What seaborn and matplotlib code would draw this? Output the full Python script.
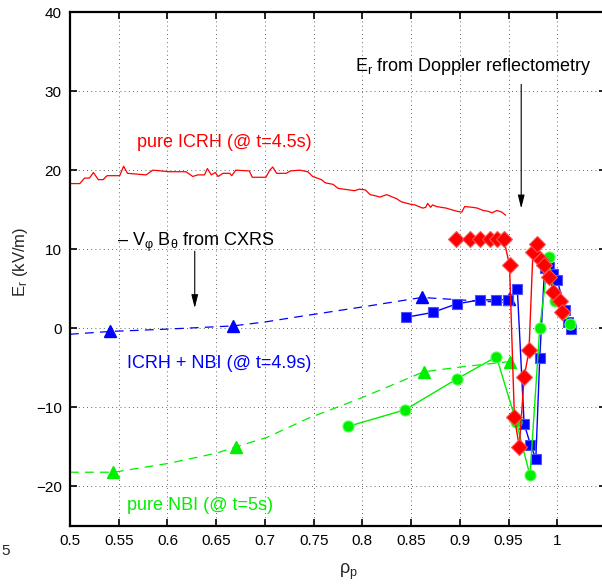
import matplotlib
matplotlib.use("Agg")
import matplotlib.pyplot as plt
import seaborn as sns

# pure ICRH, -V B from CXRS (thin solid line)
icrh_rho = [0.500, 0.510, 0.515, 0.520, 0.524, 0.529, 0.534, 0.538, 0.551, 0.555,
            0.559, 0.578, 0.585, 0.602, 0.619, 0.626, 0.631, 0.638, 0.641, 0.645,
            0.649, 0.652, 0.657, 0.664, 0.666, 0.670, 0.684, 0.687, 0.701, 0.705,
            0.708, 0.712, 0.722, 0.726, 0.736, 0.744, 0.749, 0.758, 0.762, 0.770,
            0.775, 0.792, 0.797, 0.803, 0.808, 0.812, 0.818, 0.825, 0.835, 0.840,
            0.849, 0.854, 0.862, 0.865, 0.867, 0.870, 0.872, 0.876, 0.886, 0.897,
            0.902, 0.905, 0.913, 0.918, 0.924, 0.929, 0.933, 0.938, 0.943, 0.947]
icrh_er = [18.3, 18.3, 19.0, 19.0, 19.7, 18.8, 18.8, 19.3, 19.3, 20.5,
           19.6, 19.4, 20.0, 19.8, 19.8, 19.2, 19.4, 19.4, 20.2, 19.4,
           19.7, 19.2, 19.6, 19.6, 19.3, 20.0, 19.9, 19.1, 19.1, 20.0,
           20.4, 19.6, 19.6, 19.9, 20.0, 19.8, 19.2, 18.8, 18.4, 18.2,
           17.7, 17.4, 17.6, 17.5, 16.9, 16.8, 16.6, 16.9, 16.4, 16.0,
           15.7, 15.6, 15.2, 15.3, 15.8, 15.3, 15.6, 15.4, 15.2, 14.8,
           14.7, 15.4, 15.3, 15.2, 14.9, 14.8, 14.6, 14.9, 14.7, 14.3]

# pure ICRH, Doppler reflectometry (diamonds)
icrh_dr_rho = [0.896, 0.910, 0.921, 0.931, 0.938, 0.945, 0.951, 0.956, 0.961, 0.966,
               0.971, 0.975, 0.979, 0.983, 0.986, 0.992, 0.996, 1.0025, 1.005]
icrh_dr_er = [11.3, 11.3, 11.3, 11.3, 11.3, 11.3, 8.0, -11.2, -15.0, -6.2,
              -2.8, 9.6, 10.7, 8.6, 8.0, 6.5, 4.6, 3.5, 2.1]

# ICRH + NBI, CXRS fit (dashed) and CXRS points (triangles)
mix_fit_rho = [0.500, 0.541, 0.600, 0.667, 0.700, 0.736, 0.800, 0.861, 0.900, 0.953]
mix_fit_er = [-0.75, -0.4, -0.1, 0.3, 0.8, 1.5, 2.7, 3.9, 3.6, 3.2]
mix_cx_rho = [0.541, 0.667, 0.861, 0.950]
mix_cx_er = [-0.3, 0.3, 4.0, 3.7]

# ICRH + NBI, Doppler reflectometry (squares)
mix_dr_rho = [0.845, 0.872, 0.897, 0.921, 0.937, 0.949, 0.959, 0.966, 0.9725, 0.978,
              0.982, 0.987, 0.992, 0.996, 1.000, 1.008, 1.011, 1.0145]
mix_dr_er = [1.4, 2.0, 3.1, 3.6, 3.6, 3.6, 5.0, -12.1, -14.7, -16.5,
             -3.8, 7.6, 7.8, 6.9, 6.1, 2.3, 0.8, -0.1]

# pure NBI, CXRS fit (dashed) and CXRS points (triangles)
nbi_fit_rho = [0.500, 0.545, 0.600, 0.650, 0.670, 0.702, 0.744, 0.797, 0.863, 0.900, 0.952]
nbi_fit_er = [-18.2, -18.2, -17.1, -15.8, -15.0, -13.8, -11.4, -8.9, -5.5, -4.9, -4.2]
nbi_cx_rho = [0.5445, 0.670, 0.8634, 0.952]
nbi_cx_er = [-18.2, -15.0, -5.5, -4.2]

# pure NBI, Doppler reflectometry (circles)
nbi_dr_rho = [0.7855, 0.844, 0.897, 0.9376, 0.958, 0.972, 0.982, 0.991, 0.998, 1.006, 1.013]
nbi_dr_er = [-12.4, -10.3, -6.4, -3.6, -11.9, -18.6, 0.0, 9.0, 3.4, 1.9, 0.5]

RED = "#ff0000"
BLUE = "#0000ff"
GREEN = "#00ee00"

sns.set_style("ticks")
plt.rcParams["font.family"] = ["Liberation Sans", "DejaVu Sans"]
plt.rcParams["mathtext.fontset"] = "custom"
plt.rcParams["mathtext.rm"] = "Liberation Sans"
plt.rcParams["mathtext.it"] = "Liberation Sans"

fig = plt.figure(figsize=(6.02, 5.87), dpi=100)
ax = fig.add_axes([70 / 602, 61 / 587, 536 / 602, 514 / 587])

# CXRS based curves
sns.lineplot(x=icrh_rho, y=icrh_er, ax=ax, color=RED, lw=0.9, sort=False, estimator=None)
sns.lineplot(x=mix_fit_rho, y=mix_fit_er, ax=ax, color=BLUE, lw=0.9, sort=False,
             estimator=None, linestyle=(0, (7, 5)))
sns.lineplot(x=nbi_fit_rho, y=nbi_fit_er, ax=ax, color=GREEN, lw=0.9, sort=False,
             estimator=None, linestyle=(0, (7, 5)))
ax.plot(mix_cx_rho, mix_cx_er, ls="none", marker="^", ms=8, color=BLUE, mec=BLUE)
ax.plot(nbi_cx_rho, nbi_cx_er, ls="none", marker="^", ms=8, color=GREEN, mec=GREEN)

# Doppler reflectometry
sns.lineplot(x=mix_dr_rho, y=mix_dr_er, ax=ax, color=BLUE, lw=1.0, sort=False,
             estimator=None, marker="s", ms=7, mec="#5050ff", mew=0.8)
sns.lineplot(x=nbi_dr_rho, y=nbi_dr_er, ax=ax, color=GREEN, lw=1.0, sort=False,
             estimator=None, marker="o", ms=8, mec="#60ff60", mew=0.8)
sns.lineplot(x=icrh_dr_rho, y=icrh_dr_er, ax=ax, color=RED, lw=1.0, sort=False,
             estimator=None, marker="D", ms=8, mec="#ff5050", mew=0.8)

ax.set_xlim(0.5, 1.05)
ax.set_ylim(-25, 40)
ax.set_xticks([0.5, 0.55, 0.6, 0.65, 0.7, 0.75, 0.8, 0.85, 0.9, 0.95, 1.0])
ax.set_xticklabels(["0.5", "0.55", "0.6", "0.65", "0.7", "0.75", "0.8", "0.85",
                    "0.9", "0.95", "1"])
ax.set_yticks([-20, -10, 0, 10, 20, 30, 40])
ax.set_yticklabels(["\u221220", "\u221210", "0", "10", "20", "30", "40"])
ax.grid(True, color="#333333", ls=(0, (1, 4)), lw=0.6)
ax.tick_params(direction="in", length=5, width=1.2, top=True, right=True,
               labelsize=11, pad=6, colors="black")
for s in ax.spines.values():
    s.set_linewidth(1.6)
    s.set_color("black")

# annotations
ax.text(0.5684, 22.95, "pure ICRH (@ t=4.5s)", color=RED, fontsize=13, va="baseline")
ax.text(0.5581, -4.97, "ICRH + NBI (@ t=4.9s)", color=BLUE, fontsize=13, va="baseline")
ax.text(0.5581, -23.0, "pure NBI (@ t=5s)", color=GREEN, fontsize=13, va="baseline")
ax.text(0.5485, 10.4, "\u2013 V$_{\\mathrm{\u03c6}}$ B$_{\\mathrm{\u03b8}}$ from CXRS",
        color="black", fontsize=13, va="baseline")
ax.text(0.7923, 32.5, "E$_{\\mathrm{r}}$ from Doppler reflectometry",
        color="black", fontsize=13, va="baseline")
ax.annotate("", xy=(0.628, 2.2), xytext=(0.628, 10.1),
            arrowprops=dict(arrowstyle="-|>,head_length=0.8,head_width=0.2",
                            color="black", lw=0.8))
ax.annotate("", xy=(0.963, 14.8), xytext=(0.963, 31.2),
            arrowprops=dict(arrowstyle="-|>,head_length=0.8,head_width=0.2",
                            color="black", lw=0.8))

fig.text(348 / 602, 1 - 572 / 587, "$\\mathrm{\u03c1_{p}}$", fontsize=13,
         ha="center", va="center")
fig.text(20 / 602, 1 - 262 / 587, "E$_{\\mathrm{r}}$ (kV/m)", fontsize=12,
         ha="center", va="center", rotation=90)
fig.text(1 / 602, 1 - 551 / 587, "5", fontsize=11, ha="left", va="center")

fig.savefig("out.png", dpi=100)
